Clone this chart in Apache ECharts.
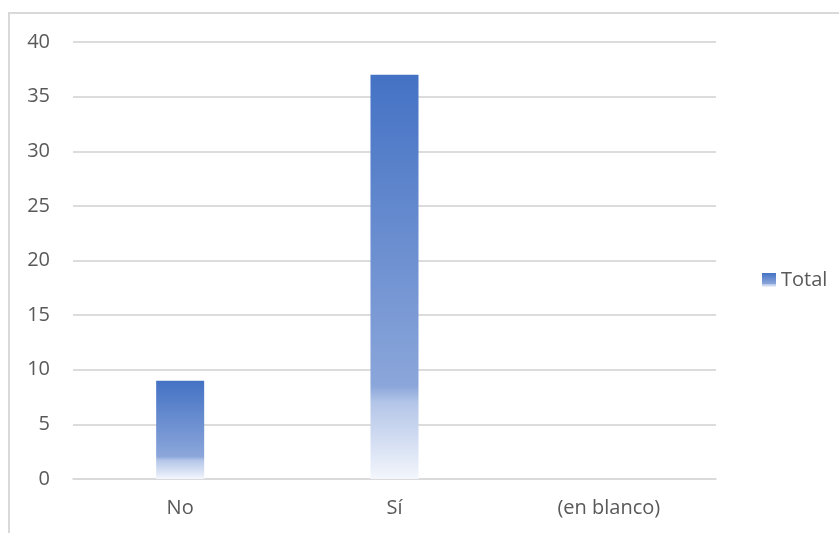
<!DOCTYPE html>
<html>
<head>
<meta charset="utf-8">
<script src="https://cdn.jsdelivr.net/npm/echarts@6/dist/echarts.min.js"></script>
<style>
  html, body { margin: 0; padding: 0; background: #fff; }
  #main { width: 839px; height: 533px; }
</style>
</head>
<body>
<div id="main"></div>
<script>
var categories = ['No', 'Sí', '(en blanco)'];
var totals = [9, 37, 0];
var seriesName = 'Total';

var myChart = echarts.init(document.getElementById('main'));

// relleno degradado tipo Excel
var barFill = new echarts.graphic.LinearGradient(0, 0, 0, 1, [
    { offset: 0, color: '#4472C4' },
    { offset: 0.77, color: '#8BA6DA' },
    { offset: 0.81, color: '#B3C5E8' },
    { offset: 1, color: '#F3F6FC' }
]);

myChart.setOption({
    backgroundColor: '#fff',
    animation: false,
    graphic: [{
        type: 'rect',
        shape: { x: 9, y: 13, width: 900, height: 600 },
        style: { fill: 'none', stroke: '#D9D9D9', lineWidth: 2 },
        silent: true
    }],
    grid: { left: 73, right: 123, top: 42, bottom: 54, containLabel: false },
    legend: {
        left: 757,
        top: 265,
        orient: 'vertical',
        icon: 'rect',
        itemWidth: 14,
        itemHeight: 14,
        itemGap: 4,
        data: [seriesName],
        textStyle: { color: '#595959', fontSize: 20, fontFamily: 'Open Sans' }
    },
    xAxis: {
        type: 'category',
        data: categories,
        axisLine: { show: true, lineStyle: { color: '#D9D9D9', width: 1.5 } },
        axisTick: { show: false },
        axisLabel: { color: '#595959', fontSize: 20, fontFamily: 'Open Sans', margin: 19 }
    },
    yAxis: {
        type: 'value',
        min: 0,
        max: 40,
        interval: 5,
        axisLine: { show: false },
        axisTick: { show: false },
        splitLine: { lineStyle: { color: '#D0D0D0', width: 1.5 } },
        axisLabel: { color: '#595959', fontSize: 20, fontFamily: 'Open Sans', margin: 23 }
    },
    series: [{
        name: seriesName,
        type: 'bar',
        data: totals,
        barWidth: '22.4%',
        itemStyle: { color: barFill }
    }]
});
</script>
</body>
</html>
